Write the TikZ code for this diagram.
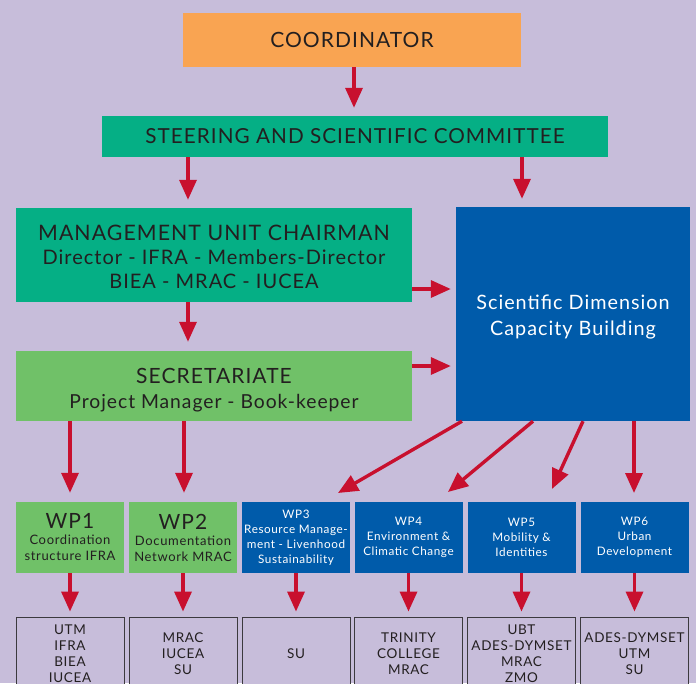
\documentclass[tikz,border=0pt]{standalone}
\usepackage{fontspec}
\setmainfont{Lato}[LetterSpace=5]
\usetikzlibrary{arrows.meta}
\definecolor{bgcol}{HTML}{C7BDDA}
\definecolor{orangebox}{HTML}{F9A452}
\definecolor{tealbox}{HTML}{05AF85}
\definecolor{greenbox}{HTML}{70C168}
\definecolor{bluebox}{HTML}{005BAA}
\definecolor{arrred}{HTML}{C8102E}
\definecolor{inkdark}{HTML}{231F20}
\definecolor{outline}{HTML}{3C3A3E}
\tikzset{
  box/.style={inner sep=0pt, align=center, text=inkdark},
  wpbox/.style={box, minimum width=108pt, minimum height=71pt},
  wpgreen/.style={wpbox, fill=greenbox, font=\fontsize{13}{16}\selectfont},
  wpblue/.style={wpbox, fill=bluebox, text=white, font=\fontsize{11.7}{15}\selectfont},
  partner/.style={box, draw=outline, line width=0.9pt, fill=bgcol,
    minimum width=108pt, minimum height=73pt, font=\fontsize{13.5}{16}\selectfont},
  arr/.style={draw=arrred, line width=3.4pt, -{Triangle[width=17pt,length=20pt]}},
}
\begin{document}
\begin{tikzpicture}[x=1pt,y=-1pt]
\useasboundingbox (0,0) rectangle (696,683);
\fill[bgcol] (0,0) rectangle (696,683);

% upper hierarchy
\node[box, fill=orangebox, minimum width=338pt, minimum height=54pt,
      font=\fontsize{21}{24}\selectfont] (coord) at (352,40) {COORDINATOR};
\node[box, fill=tealbox, minimum width=506pt, minimum height=41pt,
      font=\fontsize{20.7}{24}\selectfont] (steer) at (355,136.5) {STEERING AND SCIENTIFIC COMMITTEE};
\node[box, fill=tealbox, minimum width=396pt, minimum height=94pt,
      font=\fontsize{20}{24}\selectfont] (mgmt) at (214,255)
      {\rule{0pt}{19pt}{\fontsize{21.3}{24}\selectfont MANAGEMENT UNIT CHAIRMAN}\\Director - IFRA - Members-Director\\BIEA - MRAC - IUCEA};
\node[box, fill=greenbox, minimum width=396pt, minimum height=70pt,
      font=\fontsize{19.3}{25}\selectfont] (secr) at (214,386)
      {\rule{0pt}{24pt}{\fontsize{21}{25}\selectfont SECRETARIATE}\\Project Manager - Book-keeper};
\node[box, fill=bluebox, text=white, minimum width=234pt, minimum height=214pt,
      font=\fontsize{19.8}{26}\selectfont] (sci) at (573,314)
      {\rule{0pt}{21pt}Scientific Dimension\\Capacity Building};

% work packages
\node[wpgreen] (wp1) at (70,537.5)
  {{\fontsize{21}{21}\selectfont WP1}\\Coordination\\structure IFRA};
\node[wpgreen] (wp2) at (183,537.5)
  {{\fontsize{21}{21}\selectfont WP2}\\Documentation\\Network MRAC};
\node[wpblue] (wp3) at (296,537.5) {WP3\\Resource Manage-\\ment - Livenhood\\Sustainability};
\node[wpblue] (wp4) at (408.5,537.5) {WP4\\Environment \&\\Climatic Change};
\node[wpblue] (wp5) at (521.5,537.5) {WP5\\Mobility \&\\Identities};
\node[wpblue] (wp6) at (634.5,537.5) {WP6\\Urban\\Development};

% partner institutions
\node[partner] (p1) at (70,653.5) {UTM\\IFRA\\BIEA\\IUCEA};
\node[partner] (p2) at (183,653.5) {MRAC\\IUCEA\\SU};
\node[partner] (p3) at (296,653.5) {SU};
\node[partner] (p4) at (408.5,653.5) {TRINITY\\COLLEGE\\MRAC};
\node[partner] (p5) at (521.5,653.5) {UBT\\ADES-DYMSET\\MRAC\\ZMO};
\node[partner] (p6) at (634.5,653.5) {ADES-DYMSET\\UTM\\SU};

% lanes and tip points of the connectors
\coordinate (laneA) at (354,0);
\coordinate (laneB) at (188,0);
\coordinate (laneC) at (522,0);
\coordinate (laneD) at (70,0);
\coordinate (laneE) at (184,0);
\coordinate (s3) at (462,0);
\coordinate (s4) at (533,0);
\coordinate (s5) at (583,0);
\coordinate (s6) at (634,0);
\coordinate (t3) at (338,493);
\coordinate (t4) at (448,492);
\coordinate (t5) at (552,489);
\coordinate (t6) at (634,493);
\coordinate (h1) at (0,289);
\coordinate (h2) at (0,366);

% connectors
\draw[arr] (coord.south -| laneA) -- ([yshift=8pt]steer.north -| laneA);
\draw[arr] (steer.south -| laneB) -- ([yshift=8pt]mgmt.north -| laneB);
\draw[arr] (steer.south -| laneC) -- ([yshift=8pt]sci.north -| laneC);
\draw[arr] (mgmt.south -| laneB) -- ([yshift=9pt]secr.north -| laneB);
\draw[arr] (mgmt.east |- h1) -- ([xshift=-5pt]sci.west |- h1);
\draw[arr] (secr.east |- h2) -- ([xshift=-5pt]sci.west |- h2);
\draw[arr] (secr.south -| laneD) -- ([yshift=9pt]wp1.north -| laneD);
\draw[arr] (secr.south -| laneE) -- ([yshift=9pt]wp2.north -| laneE);
\draw[arr] (sci.south -| s3) -- (t3);
\draw[arr] (sci.south -| s4) -- (t4);
\draw[arr] (sci.south -| s5) -- (t5);
\draw[arr] (sci.south -| s6) -- (t6);
\foreach \i in {1,...,6}{
  \draw[arr] (wp\i.south) -- ([yshift=5pt]p\i.north);
}
\end{tikzpicture}
\end{document}
